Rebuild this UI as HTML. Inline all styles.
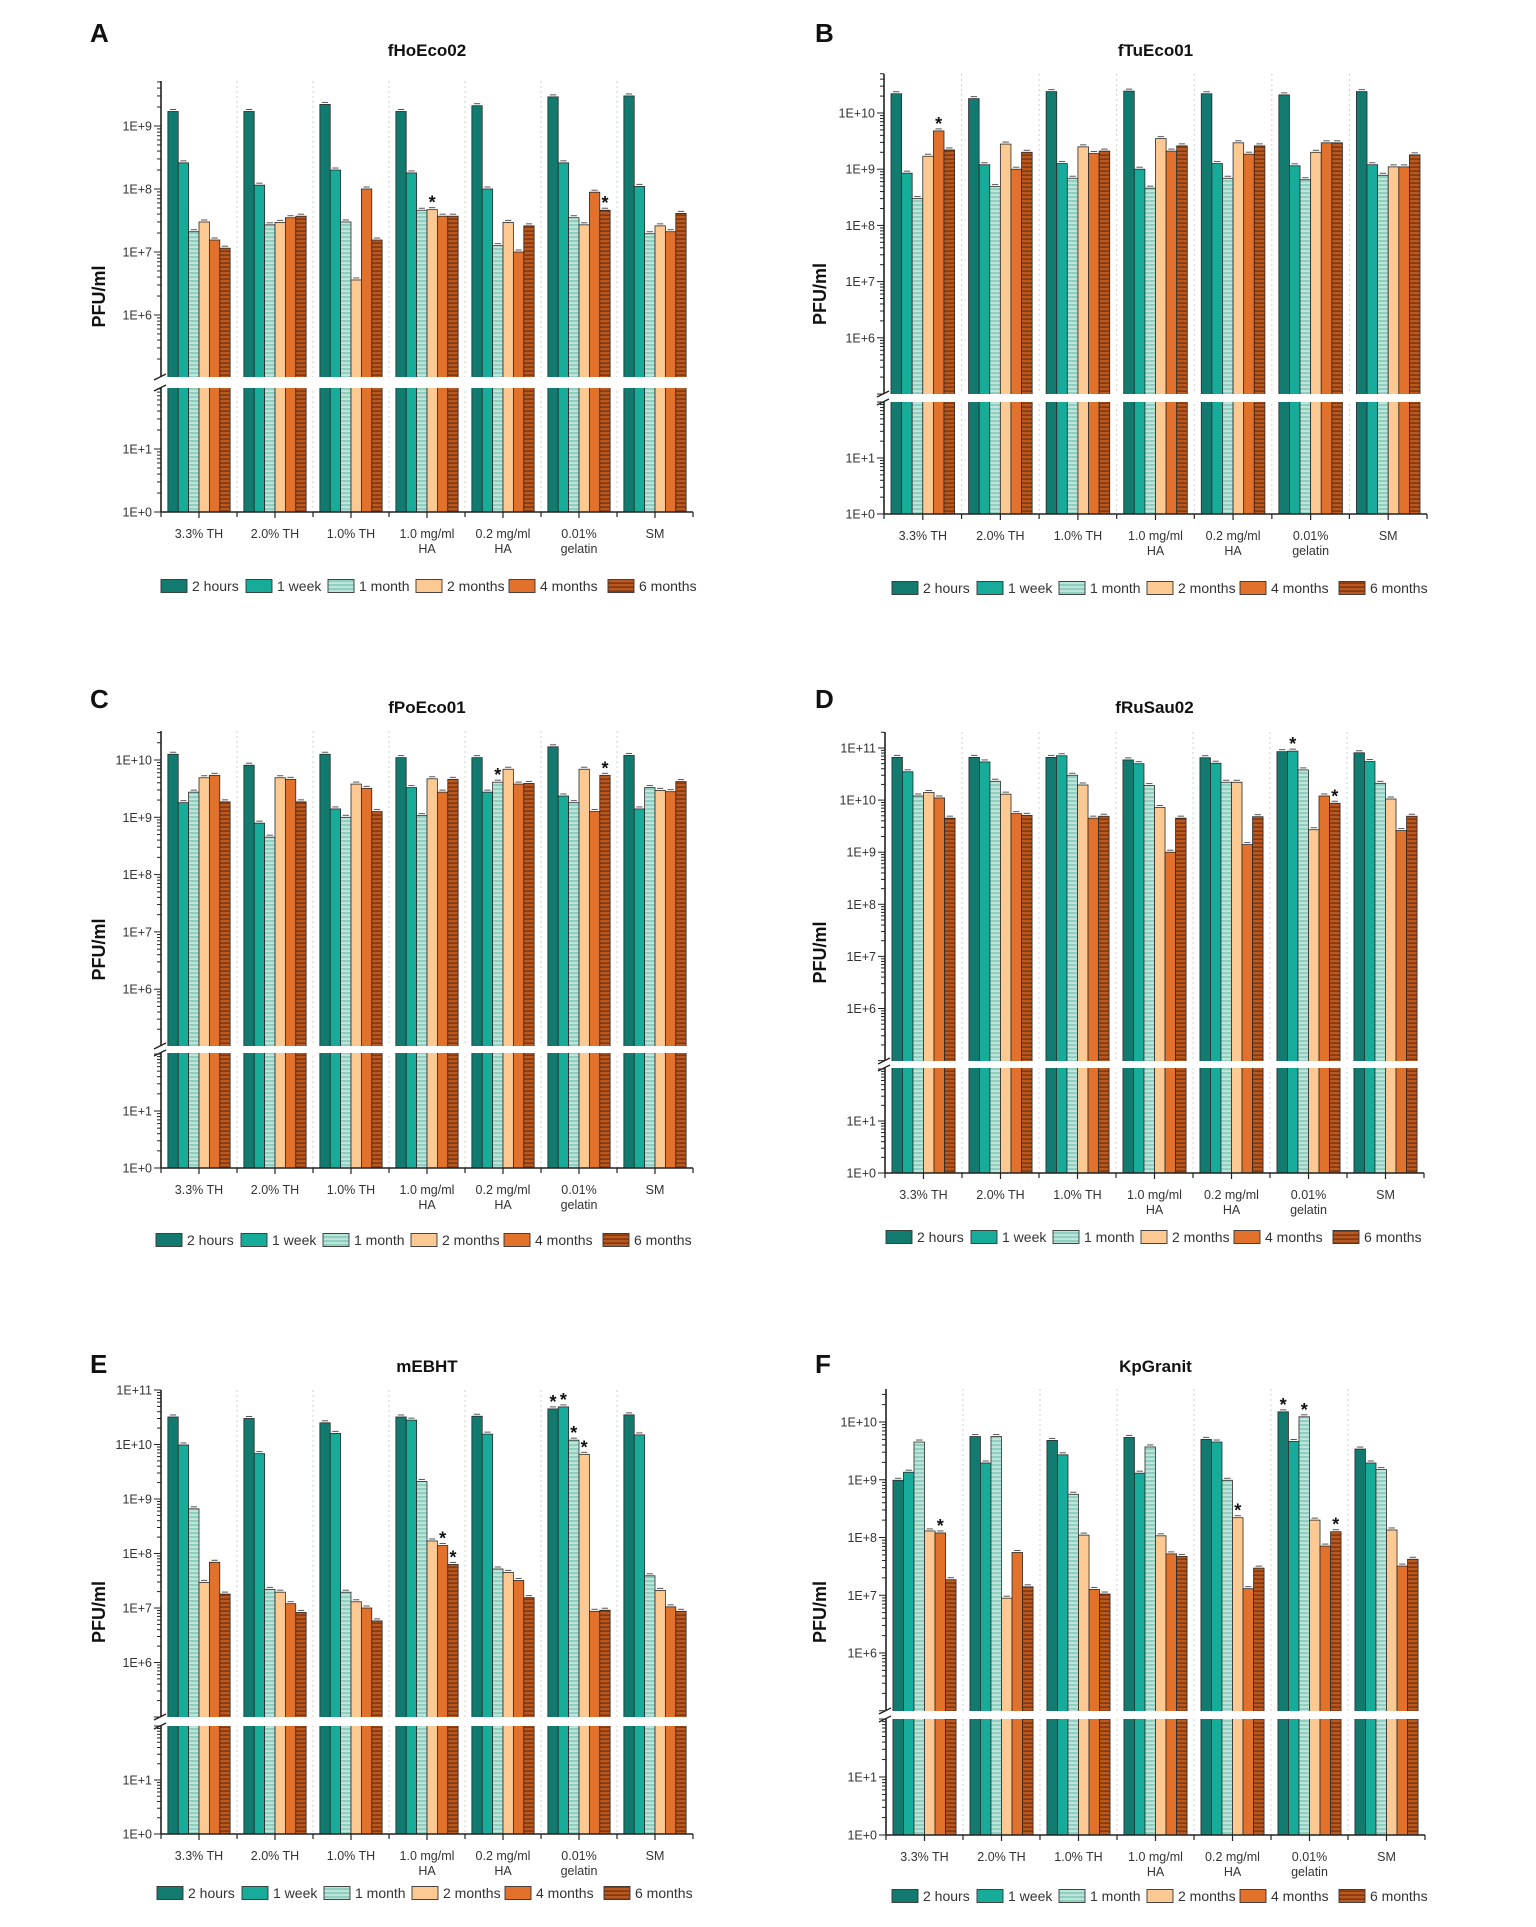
<!DOCTYPE html>
<html><head><meta charset="utf-8"><title>Phage storage stability</title>
<style>
html,body{margin:0;padding:0;background:#fff;}
svg{display:block;font-family:"Liberation Sans",Arial,sans-serif;}
</style></head>
<body>
<svg id="fig" xmlns="http://www.w3.org/2000/svg" width="1536" height="1927" viewBox="0 0 1536 1927">
<defs>
<pattern id="pat-month" patternUnits="userSpaceOnUse" width="8" height="4">
<rect width="8" height="4" fill="#8fcfbf"/><rect y="2.4" width="8" height="1.3" fill="#d8efe8"/>
</pattern>
<pattern id="pat-six" patternUnits="userSpaceOnUse" width="8" height="4">
<rect width="8" height="4" fill="#b9581f"/><rect y="2.5" width="8" height="1.2" fill="#6e2e0c"/>
</pattern>
</defs>
</svg>
<script>
const categories = [["3.3% TH"],["2.0% TH"],["1.0% TH"],["1.0 mg/ml","HA"],["0.2 mg/ml","HA"],["0.01%","gelatin"],["SM"]];
const seriesNames = ["2 hours","1 week","1 month","2 months","4 months","6 months"];

// Panel A fHoEco02
const A_2h = [1.7e9,1.7e9,2.2e9,1.7e9,2.1e9,2.9e9,3.0e9];
const A_1w = [2.6e8,1.15e8,2.0e8,1.8e8,1.0e8,2.6e8,1.1e8];
const A_1m = [2.1e7,2.7e7,3.0e7,4.6e7,1.26e7,3.5e7,1.95e7];
const A_2m = [3.0e7,2.95e7,3.6e6,4.7e7,2.95e7,2.7e7,2.6e7];
const A_4m = [1.55e7,3.5e7,1.0e8,3.7e7,1.0e7,8.9e7,2.1e7];
const A_6m = [1.15e7,3.7e7,1.55e7,3.7e7,2.6e7,4.6e7,4.1e7];
const A_stars = [[3,3],[5,5]];
// Panel B fTuEco01
const B_2h = [2.2e10,1.8e10,2.4e10,2.45e10,2.2e10,2.1e10,2.4e10];
const B_1w = [8.5e8,1.2e9,1.26e9,1.0e9,1.26e9,1.15e9,1.2e9];
const B_1m = [3.0e8,4.9e8,6.9e8,4.6e8,6.9e8,6.5e8,7.8e8];
const B_2m = [1.7e9,2.8e9,2.5e9,3.5e9,2.95e9,2.0e9,1.1e9];
const B_4m = [4.8e9,1.0e9,1.9e9,2.1e9,1.85e9,2.95e9,1.1e9];
const B_6m = [2.2e9,2.0e9,2.1e9,2.6e9,2.6e9,2.95e9,1.8e9];
const B_stars = [[0,4]];
// Panel C fPoEco01
const C_2h = [1.26e10,8.1e9,1.26e10,1.1e10,1.1e10,1.7e10,1.2e10];
const C_1w = [1.8e9,7.9e8,1.4e9,3.3e9,2.75e9,2.35e9,1.4e9];
const C_1m = [2.75e9,4.5e8,1.0e9,1.07e9,4.1e9,1.8e9,3.3e9];
const C_2m = [4.9e9,4.9e9,3.8e9,4.7e9,6.9e9,6.9e9,2.95e9];
const C_4m = [5.4e9,4.6e9,3.2e9,2.75e9,3.8e9,1.26e9,2.8e9];
const C_6m = [1.86e9,1.86e9,1.26e9,4.6e9,3.9e9,5.4e9,4.2e9];
const C_stars = [[4,2],[5,5]];
// Panel D fRuSau02
const D_2h = [6.6e10,6.6e10,6.6e10,5.9e10,6.5e10,8.5e10,8.1e10];
const D_1w = [3.5e10,5.4e10,7.1e10,5.0e10,5.1e10,8.7e10,5.5e10];
const D_1m = [1.2e10,2.3e10,3.0e10,1.9e10,2.2e10,3.8e10,2.1e10];
const D_2m = [1.4e10,1.3e10,1.95e10,7.2e9,2.2e10,2.7e9,1.05e10];
const D_4m = [1.1e10,5.5e9,4.5e9,1.0e9,1.4e9,1.2e10,2.6e9];
const D_6m = [4.5e9,5.1e9,4.9e9,4.5e9,4.8e9,8.7e9,4.9e9];
const D_stars = [[5,1],[5,5]];
// Panel E mEBHT
const E_2h = [3.2e10,3.0e10,2.5e10,3.2e10,3.3e10,4.5e10,3.5e10];
const E_1w = [9.8e9,6.8e9,1.6e10,2.8e10,1.55e10,4.9e10,1.5e10];
const E_1m = [6.6e8,2.2e7,1.95e7,2.1e9,5.2e7,1.2e10,3.9e7];
const E_2m = [2.95e7,1.95e7,1.3e7,1.7e8,4.5e7,6.6e9,2.1e7];
const E_4m = [6.9e7,1.2e7,1.0e7,1.4e8,3.2e7,8.7e6,1.05e7];
const E_6m = [1.8e7,8.3e6,5.8e6,6.3e7,1.55e7,9.1e6,8.7e6];
const E_stars = [[3,4],[3,5],[5,0],[5,1],[5,2],[5,3]];
// Panel F KpGranit
const F_2h = [9.8e8,5.6e9,4.8e9,5.4e9,5.0e9,1.5e10,3.4e9];
const F_1w = [1.35e9,1.95e9,2.7e9,1.3e9,4.5e9,4.6e9,1.95e9];
const F_1m = [4.5e9,5.6e9,5.6e8,3.7e9,9.8e8,1.23e10,1.5e9];
const F_2m = [1.3e8,8.9e6,1.1e8,1.07e8,2.2e8,2.0e8,1.35e8];
const F_4m = [1.2e8,5.5e7,1.26e7,5.2e7,1.3e7,7.1e7,3.2e7];
const F_6m = [1.86e7,1.4e7,1.05e7,4.7e7,2.95e7,1.26e8,4.2e7];
const F_stars = [[0,4],[4,3],[5,0],[5,2],[5,5]];

const fills = ["#127a6e","#17ab9a","url(#pat-month)","#fcc993","#e1712b","url(#pat-six)"];
const NS = "http://www.w3.org/2000/svg";
const svg = document.getElementById("fig");

function mk(tag, attrs, parent){
  const e = document.createElementNS(NS, tag);
  for (const k in attrs) e.setAttribute(k, attrs[k]);
  (parent || svg).appendChild(e);
  return e;
}

const panels = [
 {id:"a", letter:"A", lx:90, title:"fHoEco02", series:[A_2h,A_1w,A_1m,A_2m,A_4m,A_6m], stars:A_stars,
  x0:161,x1:693,top:81,refExp:9,refY:126,dec:63,ub:377,gb:388,y1:449,y0:512,minExp:6,maxExp:9,legY:586,legX:161,labX:105},
 {id:"b", letter:"B", lx:815, title:"fTuEco01", series:[B_2h,B_1w,B_1m,B_2m,B_4m,B_6m], stars:B_stars,
  x0:884,x1:1427,top:74,refExp:10,refY:113,dec:56.2,ub:394,gb:402,y1:458,y0:514,minExp:6,maxExp:10,legY:588,legX:892,labX:826},
 {id:"c", letter:"C", lx:90, title:"fPoEco01", series:[C_2h,C_1w,C_1m,C_2m,C_4m,C_6m], stars:C_stars,
  x0:161,x1:693,top:731,refExp:10,refY:760,dec:57.3,ub:1046,gb:1053,y1:1111,y0:1168,minExp:6,maxExp:10,legY:1240,legX:156,labX:105},
 {id:"d", letter:"D", lx:815, title:"fRuSau02", series:[D_2h,D_1w,D_1m,D_2m,D_4m,D_6m], stars:D_stars,
  x0:885,x1:1424,top:732,refExp:11,refY:748,dec:52.1,ub:1061,gb:1068,y1:1121,y0:1173,minExp:6,maxExp:11,legY:1237,legX:886,labX:826},
 {id:"e", letter:"E", lx:90, title:"mEBHT", series:[E_2h,E_1w,E_1m,E_2m,E_4m,E_6m], stars:E_stars,
  x0:161,x1:693,top:1390,refExp:11,refY:1390,dec:54.5,ub:1717,gb:1726,y1:1780,y0:1834,minExp:6,maxExp:11,legY:1893,legX:157,labX:105},
 {id:"f", letter:"F", lx:815, title:"KpGranit", series:[F_2h,F_1w,F_1m,F_2m,F_4m,F_6m], stars:F_stars,
  x0:886,x1:1425,top:1389,refExp:10,refY:1422,dec:57.75,ub:1711,gb:1719,y1:1777,y0:1835,minExp:6,maxExp:10,legY:1896,legX:892,labX:826}
];
const legOff = [0,85,167,255,348,447];

panels.forEach(function(p){
  const g = mk("g", {});
  
  
  const yU = function(v){ return p.refY - (Math.log10(v) - p.refExp) * p.dec; };
  const lowDec = p.y0 - p.y1;
  const yL = function(l){ return p.y0 - l * lowDec; };
  const G = (p.x1 - p.x0) / 7;
  const inner = G * 0.82, bw = inner / 6;
  const cx = (p.x0 + p.x1) / 2;

  const lY = (p.id==="a"||p.id==="b") ? 42 : (p.id==="c"||p.id==="d") ? 708 : 1373;
  const letter = mk("text", {x:p.lx, y:lY, "font-size":26, "font-weight":"bold", fill:"#111"}, g);
  letter.textContent = p.letter;
  
  

  const tY = (p.id==="a"||p.id==="b") ? 56 : (p.id==="c"||p.id==="d") ? 713 : 1372;
  const title = mk("text", {x:cx, y:tY, "font-size":17, "font-weight":"bold", "text-anchor":"middle", fill:"#111"}, g);
  title.textContent = p.title;
  
  

  for (let i = 1; i < 7; i++) {
    const sx = p.x0 + i * G;
    const sep = mk("line", {x1:sx, x2:sx, y1:p.top, y2:p.y0, stroke:"#d0d0d0", "stroke-width":1, "stroke-dasharray":"2,3"}, g);
    
    
  }

  p.series.forEach(function(arr, s){
    arr.forEach(function(v, gi){
      const bx = p.x0 + gi * G + (G - inner) / 2 + s * bw;
      const by = yU(v);
      const r = mk("rect", {x:bx, y:by, width:bw, height:p.y0 - by, fill:fills[s], stroke:"#2a2a2a", "stroke-width":0.8}, g);
      
      
      const cap = mk("line", {x1:bx + bw*0.2, x2:bx + bw*0.8, y1:by - 2, y2:by - 2, stroke:"#555", "stroke-width":1}, g);
      
      
    });
  });

  p.stars.forEach(function(st){
    const gi = st[0], s = st[1];
    const bx = p.x0 + gi * G + (G - inner) / 2 + s * bw + bw / 2;
    const t = mk("text", {x:bx, y:yU(p.series[s][gi]) - 1, "font-size":18, "font-weight":"bold", "text-anchor":"middle", fill:"#111"}, g);
    t.textContent = "*";
    
    
  });

  const gap = mk("rect", {x:p.x0 - 2, y:p.ub, width:p.x1 - p.x0 + 6, height:p.gb - p.ub, fill:"#fff"}, g);
  
  

  const ya1 = mk("line", {x1:p.x0, x2:p.x0, y1:p.top, y2:p.ub, stroke:"#222", "stroke-width":1.6}, g);
  
  
  const ya2 = mk("line", {x1:p.x0, x2:p.x0, y1:p.gb, y2:p.y0, stroke:"#222", "stroke-width":1.6}, g);
  
  
  [p.ub, p.gb].forEach(function(by){
    const bm = mk("line", {x1:p.x0 - 7, y1:by + 3, x2:p.x0 + 5, y2:by - 3, stroke:"#222", "stroke-width":1.4}, g);
    
    
  });
  const xa = mk("line", {x1:p.x0, x2:p.x1, y1:p.y0, y2:p.y0, stroke:"#222", "stroke-width":1.6}, g);
  
  

  for (let e = p.minExp - 1; e <= p.maxExp; e++) {
    for (let k = 1; k <= 9; k++) {
      const y = yU(k * Math.pow(10, e));
      if (y < p.top - 0.5 || y > p.ub) continue;
      const len = k === 1 ? 7 : 4;
      const tk = mk("line", {x1:p.x0 - len, x2:p.x0, y1:y, y2:y, stroke:"#222", "stroke-width":1}, g);
      
      
      if (k === 1 && e >= p.minExp) {
        const tl = mk("text", {x:p.x0 - 9, y:y + 4.5, "font-size":12.5, "text-anchor":"end", fill:"#333"}, g);
        tl.textContent = "1E+" + e;
        
        
      }
    }
  }
  for (let e = 0; e <= 2; e++) {
    for (let k = 1; k <= 9; k++) {
      const y = yL(e + Math.log10(k));
      if (y < p.gb) continue;
      const len = k === 1 ? 7 : 4;
      const tk = mk("line", {x1:p.x0 - len, x2:p.x0, y1:y, y2:y, stroke:"#222", "stroke-width":1}, g);
      
      
      if (k === 1 && e <= 1) {
        const tl = mk("text", {x:p.x0 - 9, y:y + 4.5, "font-size":12.5, "text-anchor":"end", fill:"#333"}, g);
        tl.textContent = "1E+" + e;
        
        
      }
    }
  }

  for (let i = 0; i <= 7; i++) {
    const tx = p.x0 + i * G;
    const tk = mk("line", {x1:tx, x2:tx, y1:p.y0, y2:p.y0 + 5, stroke:"#222", "stroke-width":1.2}, g);
    
    
  }
  categories.forEach(function(lines, i){
    const tx = p.x0 + (i + 0.5) * G;
    const tk = mk("line", {x1:tx, x2:tx, y1:p.y0, y2:p.y0 + 6, stroke:"#222", "stroke-width":1.2}, g);
    
    
    lines.forEach(function(line, li){
      const t = mk("text", {x:tx, y:p.y0 + 26 + li * 15, "font-size":12.5, "text-anchor":"middle", fill:"#333"}, g);
      t.textContent = line;
      
      
    });
  });

  const ycy = (p.top + p.y0) / 2;
  const yl = mk("text", {x:p.labX, y:ycy, "font-size":18, "font-weight":"bold", "text-anchor":"middle", fill:"#111", transform:"rotate(-90 " + p.labX + " " + ycy + ")"}, g);
  yl.textContent = "PFU/ml";
  
  

  seriesNames.forEach(function(name, i){
    const lx = p.legX + legOff[i];
    const sw = mk("rect", {x:lx, y:p.legY - 6.5, width:26, height:13, fill:fills[i], stroke:"#333", "stroke-width":0.9}, g);
    
    
    const lt = mk("text", {x:lx + 31, y:p.legY + 5, "font-size":14, fill:"#333"}, g);
    lt.textContent = name;
    
    
  });
});
</script>
</body></html>
